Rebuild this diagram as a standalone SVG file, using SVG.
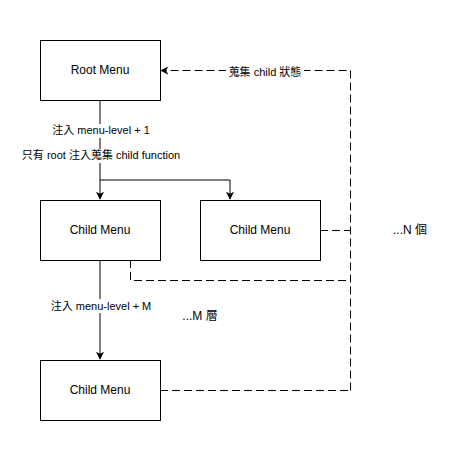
<svg xmlns="http://www.w3.org/2000/svg" width="460" height="460" viewBox="0 0 460 460">
<style>
.box{fill:#fff;stroke:#000;stroke-width:1}
.t{font-family:"Liberation Sans","Noto Sans CJK TC",sans-serif;font-size:11px;fill:#000;text-anchor:middle}
.n{font-size:12px}
.ln{fill:none;stroke:#000;stroke-width:1}
.dl{fill:none;stroke:#000;stroke-width:1;stroke-dasharray:8 4}
</style>
<defs>
<marker id="ah" viewBox="0 0 10 10" refX="9" refY="5" markerWidth="8" markerHeight="8" markerUnits="userSpaceOnUse" orient="auto">
<path d="M0,0 L10,5 L0,10 L2.5,5 Z" fill="#000"/>
</marker>
</defs>
<rect width="460" height="460" fill="#fff"/>
<g id="connectors">
<path class="ln" d="M100,100 V199" marker-end="url(#ah)"/>
<path class="ln" d="M100,180 H230 V199" marker-end="url(#ah)"/>
<path class="ln" d="M100,260 V359" marker-end="url(#ah)"/>
<path class="dl" d="M350.5,390.5 V70.5 H161" marker-end="url(#ah)"/>
<path class="dl" d="M320,230.5 H350"/>
<path class="dl" d="M130.5,260 V280.5 H350"/>
<path class="dl" d="M160,390.5 H350"/>
<rect x="226" y="64" width="78" height="14" fill="#fff"/>
<text class="t" x="265" y="76">蒐集 child 狀態</text>
<rect x="54" y="124" width="96" height="14" fill="#fff"/>
<text class="t" x="101" y="134">注入 menu-level + 1</text>
<rect x="22" y="149" width="158" height="14" fill="#fff"/>
<text class="t" x="101" y="159">只有 root 注入蒐集 child function</text>
<rect x="50" y="299" width="102" height="14" fill="#fff"/>
<text class="t" x="101" y="310">注入 menu-level + M</text>
</g>
<g id="root"><rect class="box" x="40.5" y="40.5" width="120" height="60"/><text class="t n" x="100" y="74">Root Menu</text></g>
<g id="child1"><rect class="box" x="40.5" y="200.5" width="120" height="60"/><text class="t n" x="100" y="234">Child Menu</text></g>
<g id="child2"><rect class="box" x="200.5" y="200.5" width="120" height="60"/><text class="t n" x="260" y="234">Child Menu</text></g>
<g id="child3"><rect class="box" x="40.5" y="360.5" width="120" height="60"/><text class="t n" x="100" y="394">Child Menu</text></g>
<g id="ntext"><text class="t n" x="410" y="234">...N 個</text></g>
<g id="mtext"><text class="t n" x="200" y="320">...M 層</text></g>
</svg>
